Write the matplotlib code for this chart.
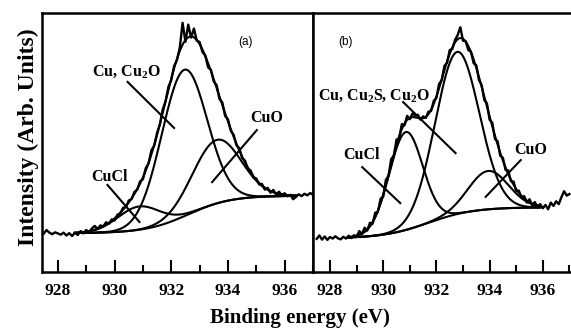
import numpy as np
import matplotlib.pyplot as plt

plt.rcParams['font.family'] = ['Liberation Serif', 'DejaVu Serif']
plt.rcParams['mathtext.fontset'] = 'custom'
plt.rcParams['mathtext.rm'] = 'Liberation Serif:bold'
plt.rcParams['mathtext.it'] = 'Liberation Serif:italic'
plt.rcParams['mathtext.bf'] = 'Liberation Serif:bold'
plt.rcParams['mathtext.default'] = 'rm'

# Cu 2p3/2 spectra, 0.1 eV steps
energy = np.round(np.arange(927.5, 937.01, 0.1), 1)

counts_a = [
    0.148, 0.162, 0.152, 0.146, 0.153, 0.149, 0.144, 0.152, 0.141, 0.150,
    0.139, 0.151, 0.143, 0.158, 0.149, 0.162, 0.154, 0.168, 0.178, 0.166,
    0.180, 0.176, 0.192, 0.186, 0.203, 0.199, 0.221, 0.226, 0.248, 0.250,
    0.276, 0.281, 0.309, 0.318, 0.350, 0.358, 0.401, 0.419, 0.470, 0.488,
    0.537, 0.571, 0.628, 0.660, 0.715, 0.741, 0.795, 0.818, 0.866, 0.962,
    0.889, 0.955, 0.905, 0.940, 0.893, 0.888, 0.849, 0.836, 0.790, 0.781,
    0.735, 0.722, 0.668, 0.655, 0.602, 0.590, 0.545, 0.530, 0.489, 0.478,
    0.440, 0.430, 0.398, 0.392, 0.364, 0.361, 0.338, 0.340, 0.318, 0.325,
    0.306, 0.317, 0.299, 0.310, 0.296, 0.304, 0.292, 0.298, 0.281, 0.290,
    0.300, 0.293, 0.302, 0.296, 0.305, 0.298,
]

counts_b = [
    0.128, 0.141, 0.125, 0.137, 0.124, 0.135, 0.129, 0.138, 0.130, 0.126,
    0.136, 0.129, 0.140, 0.131, 0.142, 0.137, 0.158, 0.146, 0.171, 0.160,
    0.190, 0.186, 0.229, 0.232, 0.283, 0.290, 0.356, 0.371, 0.436, 0.449,
    0.511, 0.516, 0.571, 0.566, 0.603, 0.590, 0.612, 0.604, 0.607, 0.588,
    0.601, 0.595, 0.619, 0.622, 0.661, 0.672, 0.726, 0.741, 0.796, 0.808,
    0.857, 0.861, 0.896, 0.915, 0.945, 0.893, 0.891, 0.857, 0.850, 0.806,
    0.798, 0.741, 0.722, 0.664, 0.651, 0.588, 0.577, 0.514, 0.505, 0.449,
    0.441, 0.394, 0.392, 0.351, 0.349, 0.312, 0.314, 0.287, 0.293, 0.268,
    0.281, 0.258, 0.270, 0.249, 0.262, 0.246, 0.259, 0.242, 0.268, 0.255,
    0.273, 0.262, 0.289, 0.312, 0.295, 0.301,
]

# fitted components: centre (eV), height above background, sigma (eV)
center_a = [930.85, 932.45, 933.60]   # CuCl, Cu/Cu2O, CuO
height_a = [0.090, 0.565, 0.245]
sigma_a = [0.75, 0.80, 0.85]
# step background: low, high, midpoint, width
bg_a = [0.150, 0.295, 932.6, 0.75]

center_b = [930.85, 932.78, 933.95]   # CuCl, Cu/Cu2S/Cu2O, CuO
height_b = [0.378, 0.626, 0.148]
sigma_b = [0.63, 0.825, 0.75]
bg_b = [0.130, 0.250, 931.7, 0.85]

fit_range_a = (928.6, 936.4)
fit_range_b = (928.7, 935.9)


def step_bg(e, p):
    lo, hi, mid, w = p
    return lo + (hi - lo) / (1 + np.exp(-(e - mid) / w))


def draw_fit(ax, counts, centers, heights, sigmas, bg, erange):
    ax.plot(energy, counts, color='black', lw=1.7)
    e = np.linspace(erange[0], erange[1], 500)
    base = step_bg(e, bg)
    total = base.copy()
    ax.plot(e, base, color='black', lw=1.5)
    for c, h, s in zip(centers, heights, sigmas):
        comp = h * np.exp(-(e - c) ** 2 / (2 * s ** 2))
        total += comp
        ax.plot(e, base + comp, color='black', lw=1.5)
    ax.plot(e, total, color='black', lw=1.5)


fig = plt.figure(figsize=(5.71, 3.28), dpi=100)
ax_a = fig.add_axes([42 / 571, 56 / 328, 271 / 571, 259 / 328])
ax_b = fig.add_axes([313 / 571, 56 / 328, 258 / 571, 259 / 328])

draw_fit(ax_a, counts_a, center_a, height_a, sigma_a, bg_a, fit_range_a)
draw_fit(ax_b, counts_b, center_b, height_b, sigma_b, bg_b, fit_range_b)

ax_a.set_xlim(927.44, 936.98)
ax_b.set_xlim(927.36, 937.06)

for ax in (ax_a, ax_b):
    ax.set_ylim(0, 1)
    ax.set_yticks([])
    ax.set_xticks([928, 930, 932, 934, 936])
    ax.set_xticks([929, 931, 933, 935, 937], minor=True)
    ax.tick_params(axis='x', which='major', direction='in', length=8.5,
                   width=1.5, pad=8, labelsize=12.5)
    ax.tick_params(axis='x', which='minor', direction='in', length=5,
                   width=1.5)
    for lbl in ax.get_xticklabels():
        lbl.set_fontweight('bold')
    for sp in ax.spines.values():
        sp.set_linewidth(1.8)
ax_b.spines['right'].set_visible(False)

lab = dict(fontsize=11.5, fontweight='bold', ha='center', va='center')
line = dict(color='black', lw=1.5)

# panel (a) labels and pointers
ax_a.text(930.42, 0.772, 'Cu, Cu$_2$O', **lab)
ax_a.plot([930.46, 932.10], [0.734, 0.556], **line)
ax_a.text(935.37, 0.595, 'CuO', **lab)
ax_a.plot([935.02, 933.44], [0.548, 0.347], **line)
ax_a.text(929.82, 0.367, 'CuCl', **lab)
ax_a.plot([929.75, 930.88], [0.336, 0.193], **line)
ax_a.text(934.63, 0.888, '(a)', fontsize=8.5, family='Liberation Sans',
          ha='center', va='center')

# panel (b) labels and pointers
ax_b.text(929.66, 0.683, 'Cu, Cu$_2$S, Cu$_2$O', **lab)
ax_b.plot([930.75, 932.72], [0.656, 0.459], **line)
ax_b.text(929.17, 0.452, 'CuCl', **lab)
ax_b.plot([929.21, 930.64], [0.405, 0.266], **line)
ax_b.text(935.55, 0.471, 'CuO', **lab)
ax_b.plot([935.17, 933.85], [0.432, 0.290], **line)
ax_b.text(928.57, 0.888, '(b)', fontsize=8.5, family='Liberation Sans',
          ha='center', va='center')

fig.text(28 / 571, 1 - 137 / 328, 'Intensity (Arb. Units)', rotation=90,
         fontsize=17, fontweight='bold', ha='center', va='center')
fig.text(300 / 571, 1 - 318 / 328, 'Binding energy (eV)',
         fontsize=15, fontweight='bold', ha='center', va='center')

fig.savefig('out.png', dpi=100)
